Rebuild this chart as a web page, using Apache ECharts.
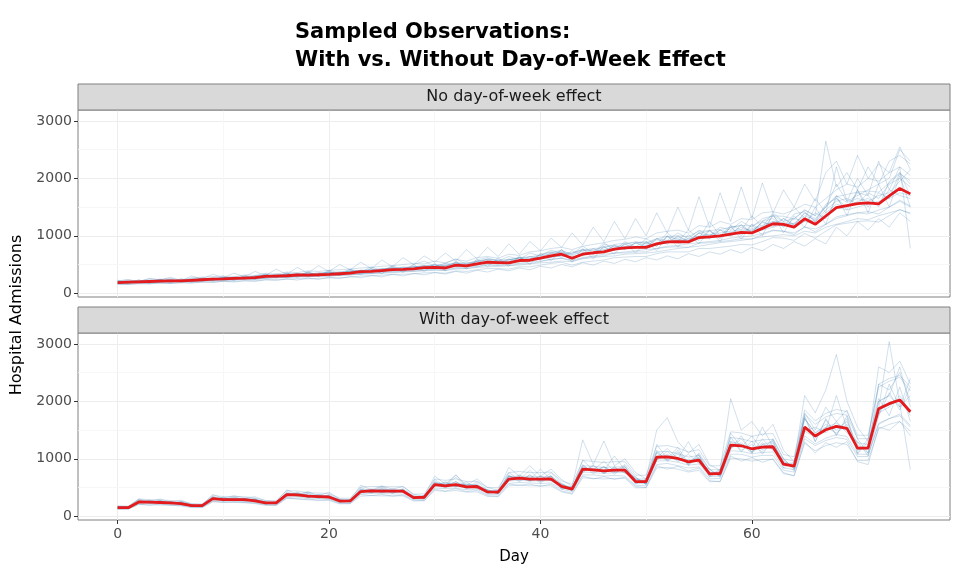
<!DOCTYPE html>
<html><head><meta charset="utf-8">
<script src="https://cdn.jsdelivr.net/npm/echarts@6/dist/echarts.min.js"></script>
<style>html,body{margin:0;padding:0;background:#fff}#c{width:960px;height:576px}</style>
</head><body><div id="c"></div>
<script>
const chartTitle = "Sampled Observations:\nWith vs. Without Day-of-Week Effect";
const panelTitles = ["No day-of-week effect", "With day-of-week effect"];
const xAxisTitle = "Day";
const yAxisTitle = "Hospital Admissions";
const days = [0,1,2,3,4,5,6,7,8,9,10,11,12,13,14,15,16,17,18,19,20,21,22,23,24,25,26,27,28,29,30,31,32,33,34,35,36,37,38,39,40,41,42,43,44,45,46,47,48,49,50,51,52,53,54,55,56,57,58,59,60,61,62,63,64,65,66,67,68,69,70,71,72,73,74,75];
const xMajorTicks = [0,20,40,60];
const xMinorTicks = [10,30,50,70];
const yMajorTicks = [0,1000,2000,3000];
const yMinorTicks = [500,1500,2500];

const medianNoDow = [185,195,200,205,210,215,215,225,235,245,250,258,265,272,295,300,305,318,315,322,330,340,350,375,380,395,410,415,425,445,450,440,490,475,510,540,535,530,570,575,610,650,680,610,680,705,720,770,790,800,800,860,895,900,895,970,980,1000,1030,1060,1050,1130,1210,1200,1150,1295,1200,1345,1490,1525,1560,1575,1555,1695,1825,1730];
const medianDow = [150,150,250,245,240,232,220,185,185,307,290,290,288,267,232,232,377,371,349,343,335,265,267,430,442,436,436,436,325,331,552,529,552,511,518,424,419,646,663,646,646,651,520,471,820,808,790,802,802,604,604,1029,1035,1006,948,977,738,744,1239,1227,1175,1204,1210,907,872,1553,1396,1506,1564,1529,1186,1186,1872,1960,2024,1820];

const samplesNoDow = [
[200,210,190,230,220,240,205,250,240,270,245,290,270,300,310,295,340,320,350,330,370,345,390,380,420,400,450,420,470,460,500,470,540,490,560,570,550,590,600,640,620,700,720,650,740,760,720,830,800,870,830,930,900,980,920,1050,1000,1100,1050,1150,1080,1230,1200,1300,1180,1400,1250,1450,1600,1650,1550,1750,1650,1900,2000,1850],
[170,180,195,190,200,195,210,200,220,225,240,235,255,250,270,285,280,300,290,310,300,320,330,340,350,370,380,390,400,410,420,430,440,460,470,500,490,510,520,550,560,590,610,580,620,650,680,700,720,740,760,780,820,830,860,880,900,920,960,980,1000,1040,1100,1080,1050,1150,1120,1200,1300,1350,1400,1380,1450,1500,1600,1500],
[190,175,215,200,230,205,225,240,215,260,270,250,290,260,320,290,330,300,340,310,360,330,380,350,410,380,430,400,460,430,500,420,530,470,550,520,580,510,620,560,650,620,760,590,720,680,800,740,850,780,880,820,1000,860,960,920,1100,950,1150,1000,1200,1100,1350,1150,1300,1250,1400,1300,1650,1450,1800,1500,1750,1650,2100,1700],
[180,200,205,210,195,225,220,215,245,240,260,270,260,285,300,310,295,330,310,340,320,355,345,390,370,400,415,405,440,450,440,470,480,500,520,530,560,520,580,590,600,640,650,640,660,700,750,760,810,790,830,850,870,940,880,990,960,1020,1000,1080,1100,1150,1250,1180,1220,1350,1280,1500,1700,1580,1650,1600,1700,1750,1950,2150],
[195,190,210,215,230,210,230,235,250,235,265,255,280,275,290,320,310,340,330,360,340,380,370,400,390,430,420,450,440,480,470,520,500,540,520,600,560,550,620,600,660,680,720,700,760,740,820,800,850,900,860,950,920,1050,950,1100,1000,1150,1100,1250,1150,1300,1350,1250,1300,1450,1350,2650,1850,2100,1800,2200,1900,2300,2400,2250],
[175,165,185,180,195,190,200,205,210,215,220,230,240,245,260,270,275,285,290,295,305,310,320,330,340,345,360,370,380,390,400,395,420,430,450,460,470,480,490,510,530,540,560,550,600,620,640,650,680,690,700,720,750,780,800,820,850,880,900,920,950,980,1000,1020,1000,1080,1050,1150,1200,1250,1300,1280,1350,1400,1450,1400],
[210,185,200,225,205,245,200,260,230,250,280,245,300,270,330,300,350,290,380,310,400,350,420,370,460,390,480,410,500,560,470,520,600,500,580,620,560,640,590,700,650,750,700,680,820,700,880,750,900,800,950,850,1050,900,1100,950,1250,1000,1180,1100,1350,1150,1400,1250,1500,1300,1650,1400,2200,1600,2000,1700,2300,1800,2200,780],
[185,195,190,200,215,220,210,230,225,250,240,260,275,265,290,295,310,305,325,320,335,340,355,365,380,385,400,420,415,440,445,460,470,480,500,520,530,540,560,570,600,620,660,600,690,700,730,760,780,800,780,850,880,900,890,950,970,1000,1050,1030,1080,1100,1150,1200,1150,1250,1200,1350,1500,1450,1500,1550,1600,1650,1750,1700],
[200,215,195,205,240,200,240,215,260,230,270,260,250,300,280,340,300,320,360,300,370,320,400,350,380,420,390,460,420,470,430,500,460,520,480,560,500,600,540,640,580,700,620,740,650,780,700,840,760,880,800,950,850,1000,900,1050,950,1100,1000,1200,1050,1250,1150,1300,1200,1400,1300,1500,1900,1600,1700,1800,1900,2000,2500,2300],
[170,185,200,195,210,205,220,225,230,235,250,245,270,260,280,290,300,310,320,330,325,350,360,360,380,390,410,400,430,440,460,450,480,490,510,530,520,560,560,600,620,640,680,620,700,710,760,780,800,820,810,880,900,920,930,1000,1020,1050,1080,1100,1120,1180,1250,1230,1200,1300,1250,1400,1550,1500,1600,1650,1550,1800,1700,1650],
[220,230,210,250,240,260,230,270,280,290,300,280,320,310,350,330,370,360,390,380,400,410,420,440,450,470,480,500,520,510,560,530,590,560,620,640,610,680,660,720,740,780,800,760,820,850,880,920,940,980,950,1050,1080,1100,1050,1180,1150,1250,1200,1300,1280,1400,1420,1380,1450,1550,1500,1650,1800,1900,1850,2000,1950,2100,2200,2050],
[150,160,165,170,175,170,180,185,190,200,205,210,215,220,235,240,245,255,250,260,265,270,280,300,305,315,330,330,340,355,360,350,390,380,410,430,430,420,460,460,490,520,540,490,540,560,580,620,630,640,640,690,720,720,720,780,780,800,820,850,840,900,970,960,920,1040,960,1080,1190,1220,1250,1260,1240,1350,1460,1380],
[230,160,240,170,250,180,260,190,280,210,300,220,310,240,340,260,360,270,370,290,390,300,420,320,440,340,470,360,500,380,520,390,560,420,590,460,620,470,650,500,700,560,760,540,780,600,820,680,880,700,900,740,1000,800,1020,860,1100,900,1180,940,1200,1000,1380,1050,1350,1150,1500,1200,1700,1350,1800,1400,1900,1500,2050,1500],
[190,205,220,200,225,230,200,240,255,230,270,280,250,300,320,280,330,345,300,350,360,330,380,400,360,420,440,390,460,480,430,480,530,450,560,590,520,580,620,560,680,720,650,700,760,680,850,820,760,880,900,820,980,950,900,1050,1080,980,1150,1180,1050,1250,1300,1150,1380,1420,1250,1550,1650,1500,1750,1700,1500,1950,2100,1900],
[175,190,180,200,190,210,200,210,215,230,225,240,250,245,260,275,270,290,285,300,300,310,320,340,345,360,370,380,385,400,410,400,440,430,460,490,480,480,510,520,550,590,610,560,610,640,650,700,700,720,720,780,800,810,800,870,880,900,920,950,940,1020,1090,1080,1020,1160,1070,1200,1330,1370,1400,1420,1380,1500,1620,1520],
[195,200,215,215,220,230,225,240,250,260,265,275,280,290,315,320,325,340,335,345,355,365,375,400,410,425,440,450,460,480,490,480,530,520,555,590,585,580,625,630,670,710,750,670,750,780,790,850,870,880,880,950,990,1000,990,1080,1090,1110,1150,1180,1170,1260,1350,1340,1290,1450,1350,1510,1680,1720,1760,1780,1760,1920,2080,1960],
[210,240,200,260,230,280,220,300,250,330,270,350,290,380,310,420,330,450,350,480,380,500,410,540,430,580,460,620,500,650,540,700,560,760,600,800,640,860,680,900,740,960,800,1050,840,1150,900,1250,950,1300,1000,1400,1050,1500,1100,1680,1150,1750,1250,1850,1300,1920,1400,1800,1500,1900,1600,2100,2300,1900,2400,2000,2250,2100,2550,2150],
[160,150,170,160,180,170,190,175,200,185,210,195,220,205,235,220,250,230,265,240,280,255,295,270,310,285,330,300,345,320,360,335,380,350,400,370,420,390,440,410,470,440,500,460,530,490,560,520,590,550,620,580,650,600,690,640,720,680,760,700,800,740,850,780,900,820,950,860,1150,1000,1250,1100,1300,1150,1400,1250]
];

const samplesDow = [
[160,140,270,250,260,230,240,190,170,320,300,280,310,260,240,220,400,360,370,330,350,270,250,450,420,470,430,450,340,320,580,540,600,500,540,440,400,700,650,680,620,700,560,480,880,780,850,760,830,640,580,1100,980,1080,900,1020,780,700,1300,1150,1250,1120,1280,950,850,1700,1450,1600,1500,1650,1250,1100,2000,2100,1900,2100],
[140,155,240,260,230,245,210,180,195,290,310,280,270,280,225,240,360,390,330,360,320,255,280,420,460,410,450,420,310,340,530,560,520,540,490,410,430,620,690,610,670,630,500,460,790,840,760,830,780,590,620,980,1080,960,990,940,720,760,1180,1280,1120,1250,1180,880,900,1480,1380,1550,1450,1600,1150,1220,1800,1900,2100,1750],
[170,160,290,230,280,220,260,200,180,350,280,330,300,300,250,220,430,360,400,320,380,290,260,500,430,500,420,480,360,310,640,520,680,490,600,460,400,760,640,800,620,760,580,460,980,800,960,780,900,680,560,1250,1000,1200,920,1100,820,700,1450,1200,1400,1150,1350,1000,820,1800,1500,1900,1650,1850,1350,1100,2300,2200,2500,2000],
[130,135,220,225,215,210,200,170,165,270,265,260,255,240,210,205,330,335,315,310,300,240,235,390,400,395,390,385,295,290,490,480,490,460,470,380,375,570,590,580,570,580,470,430,720,720,700,710,700,540,530,900,920,880,840,860,650,660,1080,1080,1030,1060,1060,800,770,1350,1230,1320,1370,1340,1040,1040,1620,1700,1780,1580],
[155,145,260,255,250,240,230,190,190,320,295,300,290,275,240,235,390,380,360,350,340,270,270,440,450,440,445,440,330,335,560,535,560,520,525,430,425,660,670,655,650,660,530,480,830,820,800,810,810,610,610,1040,1050,1020,960,990,750,750,1250,1240,1190,1220,1230,920,880,1570,1410,1520,1580,1540,1200,1200,1890,1980,2040,1840],
[150,170,230,270,220,260,200,200,170,330,270,310,270,300,220,250,350,400,330,380,310,290,250,470,410,480,400,470,310,360,520,590,510,600,480,460,390,700,620,720,600,710,480,520,760,880,740,860,750,660,560,1120,980,1150,900,1080,700,820,1180,1400,1100,1350,1150,1000,830,1750,1300,1700,1400,1750,1100,1350,1750,2300,1900,2400],
[145,150,250,240,270,230,220,180,185,300,290,340,280,270,230,230,380,370,420,340,330,260,270,430,440,520,430,430,320,330,550,530,720,510,520,420,410,650,660,640,820,640,520,470,820,800,790,1050,800,600,600,1030,1040,1000,1300,970,740,740,1240,1230,1170,1550,1210,900,870,1560,1400,1500,2100,1530,1180,1190,1870,3040,1960,810],
[160,150,255,245,235,235,225,195,180,310,300,285,295,265,235,230,370,375,345,345,330,265,265,425,445,430,440,430,320,330,545,530,545,515,515,420,420,640,660,650,640,650,520,470,810,810,785,800,800,600,600,1020,1030,1000,950,970,740,740,1230,1220,1170,1200,1210,910,870,1540,1390,1500,1560,1520,1180,1180,1860,1950,2010,1810],
[160,160,260,250,250,245,235,195,195,320,310,305,300,280,245,245,395,390,365,360,350,280,280,455,465,460,455,455,345,350,580,560,585,540,545,450,445,690,700,690,690,695,560,500,880,870,850,860,860,650,650,1120,1130,1090,1030,1060,810,810,1370,1350,1300,1330,1340,1000,960,1780,1600,1730,1790,1760,1350,1350,2300,2400,2450,2250],
[140,140,240,235,230,225,210,175,175,290,280,275,275,255,220,220,360,355,335,330,320,250,255,410,420,415,415,415,310,315,525,505,525,490,495,405,400,610,630,615,615,620,495,450,770,760,745,760,760,570,570,960,970,940,890,910,690,700,1140,1130,1090,1110,1120,840,810,1400,1260,1360,1420,1390,1080,1080,1600,1700,1750,1550],
[180,175,300,290,285,275,260,220,215,360,345,345,340,315,275,275,445,440,410,405,395,315,315,510,520,515,515,515,385,390,650,625,650,605,610,500,495,760,780,760,760,770,615,555,970,955,935,950,950,715,715,1220,1230,1190,1120,1160,875,880,1470,1450,1390,1430,1440,1075,1035,1850,1660,1790,1860,1820,1410,1410,2250,2350,2420,2180],
[120,125,205,200,195,190,180,150,150,250,240,240,235,220,190,190,310,305,285,280,275,215,220,350,360,355,355,355,265,270,450,430,450,420,425,345,340,530,540,530,530,530,425,385,670,660,650,660,660,495,495,840,850,820,770,800,600,610,1010,1000,960,990,990,740,710,1270,1140,1230,1280,1250,970,970,1520,1600,1650,1480],
[165,130,280,220,270,210,250,170,200,340,260,320,260,300,210,250,410,340,390,310,370,250,290,480,400,480,400,470,300,360,600,490,610,470,570,390,450,720,600,720,580,700,470,510,900,740,870,730,880,560,650,1150,950,1120,880,1060,680,800,1380,1120,1310,1080,1330,840,950,1720,1300,1680,1420,1700,1080,1300,2050,1750,2250,1650],
[150,160,235,265,250,220,235,200,175,290,330,270,310,290,250,215,350,410,330,380,350,290,250,420,480,410,470,420,350,300,530,600,520,560,540,460,390,620,720,620,700,620,560,440,780,890,750,850,760,680,550,980,1130,960,1080,920,820,680,1180,1350,1120,1280,1150,980,790,1480,1550,1450,1650,1450,1300,1050,1750,2150,1850,2250],
[145,160,250,280,235,250,230,175,200,300,330,290,300,300,225,245,370,420,350,360,340,270,290,460,430,440,480,440,330,350,600,540,540,560,520,430,460,700,660,620,700,620,530,500,860,800,860,780,860,640,620,1020,1180,1000,960,1020,760,770,1300,1250,1100,1250,1300,930,920,1700,1450,1550,1620,1500,1280,1250,2000,2100,2600,1900],
[150,145,245,240,245,235,215,185,180,305,285,295,280,265,230,225,370,365,350,335,330,260,265,425,430,440,425,430,320,325,545,520,560,500,515,420,410,640,650,655,635,645,515,465,810,800,800,790,800,595,600,1010,1020,1010,940,970,730,735,1220,1210,1180,1190,1200,900,865,1530,1380,1510,1540,1510,1170,1175,1850,1940,2030,1800],
[175,170,300,260,300,250,280,210,200,380,310,360,320,340,270,250,460,380,430,360,420,300,290,540,460,530,470,520,380,350,700,560,720,540,650,500,450,850,700,880,700,820,640,520,1330,900,1310,880,1000,760,650,1500,1716,1300,1100,1250,900,800,2047,1500,1650,1400,1600,1150,950,2100,1800,2200,2815,2000,1550,1300,2600,2500,2700,2300],
[130,125,210,190,215,195,190,160,155,260,245,250,240,230,200,190,320,300,300,280,290,225,220,380,360,380,350,370,280,270,470,440,480,430,450,360,350,560,540,560,520,560,440,400,700,650,690,640,680,520,500,880,820,870,790,840,620,600,1050,960,1020,940,1000,760,700,1300,1100,1280,1200,1300,950,900,1550,1500,1650,1400]
];

const FONT = "DejaVu Sans";
const gridColor = "#ededed";
const borderColor = "#808080";
const panels = [
  {top: 110, height: 187, strip: 84, median: medianNoDow, samples: samplesNoDow, showX: false},
  {top: 333, height: 187, strip: 307, median: medianDow, samples: samplesDow, showX: true}
];
const L = 78, W = 872;

const grids = [], xAxes = [], yAxes = [], series = [], graphics = [];
panels.forEach((p, gi) => {
  grids.push({left: L, top: p.top, width: W, height: p.height, show: true, borderColor: borderColor, borderWidth: 1, containLabel: false});
  xAxes.push({
    type: 'value', gridIndex: gi, min: -3.75, max: 78.75, position: 'bottom',
    axisLine: {show: false, onZero: false},
    axisTick: {show: p.showX, length: 4, lineStyle: {color: '#333'}, customValues: xMajorTicks},
    axisLabel: {show: p.showX, customValues: xMajorTicks, color: '#4d4d4d', fontSize: 14, fontFamily: FONT, margin: 7, formatter: v => String(v)},
    splitLine: {show: true, lineStyle: {color: gridColor, width: 1}}
  });
  yAxes.push({
    type: 'value', gridIndex: gi, min: -65, max: 3190, position: 'left',
    axisLine: {show: false, onZero: false},
    axisTick: {show: true, length: 4, lineStyle: {color: '#333'}, customValues: yMajorTicks},
    axisLabel: {show: true, customValues: yMajorTicks, color: '#4d4d4d', fontSize: 14, fontFamily: FONT, margin: 6, formatter: v => String(v)},
    splitLine: {show: true, lineStyle: {color: gridColor, width: 1}}
  });
  p.samples.forEach((s, si) => {
    const ser = {
      type: 'line', xAxisIndex: gi, yAxisIndex: gi, symbol: 'none', silent: true, z: 2,
      data: days.map((d, i) => [d, s[i]]),
      lineStyle: {color: 'rgba(70,130,180,0.28)', width: 0.9}
    };
    if (si === 0) {
      ser.markLine = {
        silent: true, symbol: 'none', label: {show: false}, z: 1,
        lineStyle: {color: '#f5f5f5', type: 'solid', width: 0.8},
        data: xMinorTicks.map(v => ({xAxis: v})).concat(yMinorTicks.map(v => ({yAxis: v})))
      };
    }
    series.push(ser);
  });
  series.push({
    type: 'line', xAxisIndex: gi, yAxisIndex: gi, symbol: 'none', silent: true, z: 5,
    data: days.map((d, i) => [d, p.median[i]]),
    lineStyle: {color: '#e41a1c', width: 2.8}
  });
  graphics.push({type: 'rect', shape: {x: L, y: p.strip, width: W, height: 26}, style: {fill: '#d9d9d9', stroke: borderColor, lineWidth: 1}, z: 10});
  graphics.push({type: 'text', x: L + W / 2, y: p.strip + 13, style: {text: panelTitles[gi], fill: '#1a1a1a', font: '16px "DejaVu Sans"', textAlign: 'center', textVerticalAlign: 'middle'}, z: 11});
});
graphics.push({type: 'text', x: 514, y: 557, style: {text: xAxisTitle, fill: '#000', font: '15px "DejaVu Sans"', textAlign: 'center', textVerticalAlign: 'middle'}});
graphics.push({type: 'text', x: 17, y: 315, rotation: Math.PI / 2, style: {text: yAxisTitle, fill: '#000', font: '16px "DejaVu Sans"', textAlign: 'center', textVerticalAlign: 'middle'}});

const chart = echarts.init(document.getElementById('c'), null, {renderer: 'canvas'});
chart.setOption({
  animation: false,
  backgroundColor: '#fff',
  title: {text: chartTitle, left: 290, top: 14, textStyle: {fontFamily: FONT, fontSize: 21, fontWeight: 'bold', color: '#000', lineHeight: 28}},
  grid: grids, xAxis: xAxes, yAxis: yAxes, series: series, graphic: graphics
});
</script></body></html>
